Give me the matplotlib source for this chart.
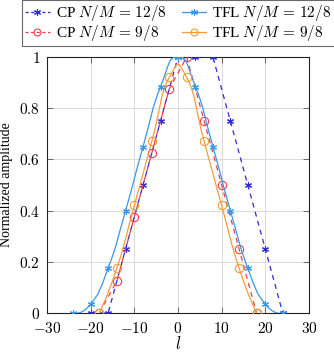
import numpy as np
import matplotlib
matplotlib.use("Agg")
import matplotlib.pyplot as plt
from matplotlib.path import Path
from matplotlib.patches import PathPatch
from matplotlib.lines import Line2D

plt.rcParams['font.family'] = ['Liberation Serif', 'DejaVu Serif']
plt.rcParams['mathtext.fontset'] = 'cm'

# data
cp12_x = [-20, -16, -12, -8, -4, 0, 4, 8, 12, 16, 20, 24]
cp12_y = [0, 0, 0.25, 0.5, 0.75, 1, 1, 1, 0.75, 0.5, 0.25, 0]

cp9_x = [-18, -14, -10, -6, -2, 2, 6, 10, 14, 18]
cp9_y = [0, 0.125, 0.375, 0.625, 0.875, 1, 0.75, 0.5, 0.25, 0]

tfl12_x = [-24, -20, -16, -12, -8, -4, 0, 4, 8, 12, 16, 20, 24]
tfl12_y = [0, 0.035, 0.175, 0.40, 0.65, 0.884, 1, 0.884, 0.65, 0.40, 0.175, 0.035, 0]

tfl9_x = [-18, -14, -10, -6, -2, 2, 6, 10, 14, 18]
tfl9_y = [0, 0.175, 0.42, 0.67, 0.92, 0.92, 0.67, 0.42, 0.175, 0]

x_ticks = [-30, -20, -10, 0, 10, 20, 30]
y_ticks = [0, 0.2, 0.4, 0.6, 0.8, 1]

c_cp12 = '#2b2bd9'
c_cp9 = '#e8404a'
c_tfl12 = '#3a96e6'
c_tfl9 = '#f39c3c'


def smooth_path(xs, ys, tension=0.55):
    # cubic bezier through the points, like pgfplots "smooth"
    p = np.column_stack([xs, ys]).astype(float)
    n = len(p)
    verts = [p[0]]
    codes = [Path.MOVETO]
    for i in range(n - 1):
        d0 = (p[i + 1] - p[i - 1]) if i > 0 else np.zeros(2)
        d1 = (p[i + 2] - p[i]) if i + 2 < n else np.zeros(2)
        c1 = p[i] + tension * 0.5 * d0
        c2 = p[i + 1] - tension * 0.5 * d1
        verts += [c1, c2, p[i + 1]]
        codes += [Path.CURVE4] * 3
    return Path(verts, codes)


fig = plt.figure(figsize=(3.34, 3.53), dpi=100)
ax = fig.add_axes([0.1407, 0.1133, 0.7843, 0.7252])

ax.grid(True, color='#d4d4d4', linewidth=0.6)
ax.set_axisbelow(True)

lw = 0.9
ax.plot(cp12_x, cp12_y, color=c_cp12, lw=lw, dashes=(4, 3.5),
        marker=(6, 2, 0), ms=5, mew=0.8, zorder=3)
ax.plot(cp9_x, cp9_y, color=c_cp9, lw=lw, dashes=(4, 3.5),
        marker='o', ms=6, mfc='none', mew=0.8, zorder=3)

for xs, ys, col, mk, extra in [
        (tfl12_x, tfl12_y, c_tfl12, (6, 2, 0), {}),
        (tfl9_x, tfl9_y, c_tfl9, 'o', {'mfc': 'none', 'ms': 6})]:
    ax.add_patch(PathPatch(smooth_path(xs, ys), fill=False, edgecolor=col,
                           lw=lw, zorder=3))
    opts = dict(ms=5, mew=0.8)
    opts.update(extra)
    ax.plot(xs, ys, ls='none', color=col, marker=mk, zorder=4, **opts)

ax.set_xlim(-30, 30)
ax.set_ylim(0, 1)
ax.set_xticks(x_ticks)
ax.set_xticklabels([f'${t}$' for t in x_ticks])
ax.set_yticks(y_ticks)
ax.set_yticklabels([f'${t:g}$' for t in y_ticks])
ax.tick_params(direction='in', top=True, right=True, length=4, width=0.6,
               labelsize=11, color='#555555')
ax.tick_params(axis='x', pad=6)
ax.tick_params(axis='y', pad=5)
for s in ax.spines.values():
    s.set_linewidth(0.8)
    s.set_color('#222222')

ax.set_xlabel('$l$', fontsize=12, labelpad=0)
ax.set_ylabel('Normalized amplitude', fontsize=10, labelpad=4)

handles = [
    Line2D([], [], color=c_cp12, lw=lw, dashes=(2.5, 2), marker=(6, 2, 0), ms=5, mew=0.8),
    Line2D([], [], color=c_cp9, lw=lw, dashes=(2.5, 2), marker='o', ms=5, mfc='none', mew=0.8),
    Line2D([], [], color=c_tfl12, lw=lw, marker=(6, 2, 0), ms=5, mew=0.8),
    Line2D([], [], color=c_tfl9, lw=lw, marker='o', ms=5, mfc='none', mew=0.8),
]
labels = ['CP $N/M\\,=\\,12/8$', 'CP $N/M\\,=\\,9/8$',
          'TFL $N/M\\,=\\,12/8$', 'TFL $N/M\\,=\\,9/8$']
leg = fig.legend(handles, labels, ncol=2, loc='upper left',
                 bbox_to_anchor=(0.066, 1.0), fontsize=11, frameon=True,
                 fancybox=False, edgecolor='#444444', handlelength=1.6,
                 handletextpad=0.4, columnspacing=1.0, borderpad=0.2,
                 labelspacing=0.02, borderaxespad=0.0)
leg.get_frame().set_linewidth(0.8)

fig.savefig('out.png', dpi=100)
